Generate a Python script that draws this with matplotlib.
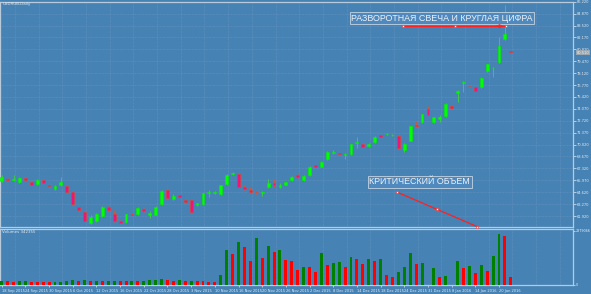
import numpy as np
import matplotlib
matplotlib.use("Agg")
import matplotlib.pyplot as plt
import matplotlib.transforms as mtransforms

# USDRUB daily bars, 18 Sep 2015 .. 22 Jan 2016
opens = [65.92, 66.06, 66.03, 65.81, 66.19, 65.74, 65.58, 66.00, 65.37, 64.98,
         65.43, 65.36, 64.61, 62.94, 62.41, 61.09, 61.35, 61.95, 62.94, 62.11,
         61.35, 61.21, 62.15, 62.11, 62.75, 62.00, 62.09, 63.26, 64.87, 63.85,
         64.27, 63.73, 63.73, 63.17, 63.28, 64.55, 64.55, 64.38, 65.55, 66.68,
         66.68, 65.24, 64.87, 64.62, 64.56, 65.24, 65.63, 65.17, 65.49, 66.00,
         66.53, 66.04, 66.57, 67.65, 67.51, 68.35, 69.12, 69.02, 68.84, 68.95,
         70.22, 70.05, 69.86, 70.29, 71.10, 71.21, 71.05, 71.02, 69.46, 70.42,
         72.29, 72.61, 74.03, 72.61, 72.88, 73.26, 74.39, 75.83, 77.04, 76.67,
         76.58, 76.51, 78.36, 78.66, 79.42, 81.95, 80.63]
highs = [66.57, 66.23, 66.57, 66.34, 66.49, 65.83, 66.06, 66.23, 66.00, 65.43,
         66.38, 65.43, 64.70, 63.05, 62.49, 61.98, 62.26, 63.00, 63.05, 62.60,
         61.47, 62.20, 62.26, 62.94, 62.83, 62.49, 63.00, 64.87, 65.55, 64.36,
         64.53, 63.96, 63.79, 63.45, 64.58, 64.87, 64.75, 65.49, 66.63, 66.91,
         66.74, 65.38, 65.21, 64.81, 64.81, 66.12, 66.08, 65.61, 65.83, 66.40,
         66.63, 66.57, 67.59, 68.04, 68.16, 69.29, 69.40, 69.40, 69.06, 70.14,
         70.91, 70.42, 70.20, 70.99, 71.33, 71.33, 71.22, 71.10, 70.20, 72.12,
         72.69, 73.54, 74.39, 73.15, 73.37, 74.68, 74.51, 76.26, 77.23, 76.77,
         76.66, 77.68, 79.21, 78.78, 82.25, 85.84, 80.82]
lows = [65.77, 65.89, 65.89, 65.66, 65.95, 65.32, 65.49, 65.55, 65.13, 64.87,
        65.32, 64.58, 63.17, 62.03, 61.24, 61.01, 61.24, 61.86, 62.49, 61.24,
        61.07, 61.13, 61.98, 62.03, 62.43, 61.69, 61.98, 63.17, 63.85, 63.73,
        63.96, 63.45, 62.26, 63.05, 63.17, 64.11, 64.41, 64.30, 65.43, 66.57,
        65.15, 64.87, 64.53, 64.41, 64.19, 65.10, 65.21, 65.10, 65.43, 65.89,
        66.23, 65.89, 66.46, 67.31, 67.42, 68.27, 68.95, 68.61, 68.38, 68.84,
        69.60, 69.52, 69.74, 70.20, 70.76, 71.10, 70.99, 69.52, 69.18, 70.37,
        72.01, 72.52, 73.32, 72.52, 72.58, 73.15, 74.05, 74.85, 76.01, 75.83,
        75.98, 76.43, 78.25, 77.71, 79.32, 81.88, 79.42]
closes = [66.38, 66.00, 66.05, 66.26, 66.00, 65.43, 65.97, 65.66, 65.34, 65.36,
          65.74, 64.68, 63.25, 62.57, 61.35, 61.84, 62.11, 62.91, 62.60, 61.35,
          61.16, 62.11, 62.06, 62.86, 62.52, 62.26, 62.91, 64.79, 63.99, 64.24,
          64.04, 63.54, 62.37, 63.36, 64.49, 64.57, 64.57, 65.43, 66.57, 66.83,
          65.24, 65.02, 64.64, 64.60, 64.68, 65.70, 65.40, 65.43, 65.74, 66.31,
          66.38, 66.46, 67.51, 67.42, 68.07, 69.20, 69.20, 69.00, 68.95, 70.05,
          70.24, 69.71, 70.08, 70.91, 70.88, 71.23, 71.16, 69.60, 70.08, 72.07,
          72.12, 73.43, 73.37, 73.09, 73.18, 74.59, 74.20, 76.09, 77.07, 76.65,
          76.09, 77.60, 79.12, 78.68, 81.19, 82.52, 80.51]
volumes = [155000, 133000, 110000, 133000, 141000, 132000, 124000, 110000, 102000, 110000,
           124000, 141000, 177000, 155000, 186000, 155000, 168000, 141000, 150000, 168000,
           141000, 133000, 155000, 141000, 168000, 177000, 221000, 234000, 221000, 168000,
           177000, 155000, 159000, 146000, 133000, 115000, 102000, 420000, 1526000, 1335000,
           1893000, 1672000, 1052000, 2043000, 1159000, 1702000, 1450000, 1526000, 1083000, 1052000,
           641000, 787000, 761000, 566000, 1380000, 862000, 937000, 982000, 761000, 1203000,
           1141000, 893000, 1114000, 1052000, 1128000, 420000, 318000, 566000, 761000, 1380000,
           907000, 937000, 0, 743000, 318000, 376000, 0, 1052000, 716000, 818000,
           509000, 862000, 584000, 1247000, 2246000, 2145000, 342355]
date_labels = ["18 Sep 2015", "24 Sep 2015", "30 Sep 2015", "6 Oct 2015", "12 Oct 2015",
               "16 Oct 2015", "22 Oct 2015", "28 Oct 2015", "3 Nov 2015", "10 Nov 2015",
               "16 Nov 2015", "20 Nov 2015", "26 Nov 2015", "2 Dec 2015", "8 Dec 2015",
               "14 Dec 2015", "18 Dec 2015", "24 Dec 2015", "31 Dec 2015", "8 Jan 2016",
               "14 Jan 2016", "20 Jan 2016"]
price_ticks = [61.92, 63.27, 64.62, 65.97, 67.32, 68.67, 70.02, 71.37, 72.72, 74.07,
               75.42, 76.77, 78.12, 79.47, 80.82, 82.17, 83.52, 84.87, 86.22]
vol_max_label = 2379066

BG = "#4682b4"
FRAME = "#b9cbdb"
TXT = "#e4ecf3"
GRID = "#6393c0"
SMALL = 2.6

o = np.array(opens); h = np.array(highs); l = np.array(lows); c = np.array(closes)
v = np.array(volumes)
x = np.arange(len(o))
up = c >= o

fig = plt.figure(figsize=(5.91, 2.94), dpi=100, facecolor=BG)
W, H = 591.0, 294.0
ax = fig.add_axes([0.0, 1 - 227 / H, 573 / W, (227 - 1.7) / H], facecolor=BG)
axv = fig.add_axes([0.0, 1 - 285 / H, 573 / W, (285 - 229) / H], facecolor=BG, sharex=ax)

for a in (ax, axv):
    for s in a.spines.values():
        s.set_color(FRAME)
        s.set_linewidth(0.9)
    a.tick_params(colors=TXT, labelsize=SMALL, length=2, width=0.5, pad=1)
    a.yaxis.tick_right()

# grid
for a in (ax, axv):
    for gx in np.arange(2.25, 97, 4):
        a.axvline(gx, color=GRID, lw=0.5, ls=(0, (1, 1)), zorder=0)
for p in price_ticks:
    ax.axhline(p, color=GRID, lw=0.5, ls=(0, (1, 1)), zorder=0)

# candles
wick_col = np.where(up, "#3fd23f", "#d05a34")
ax.vlines(x, l, h, colors=wick_col, lw=0.6, zorder=2)
body_h = np.maximum(np.abs(c - o), 0.04)
ax.bar(x, body_h, bottom=np.minimum(o, c), width=0.48,
       color=np.where(up, "#00ff00", "#f0147a"),
       edgecolor=np.where(up, "#00ee00", "#e8402a"), linewidth=0.4, zorder=3)

ax.set_xlim(-1.7 / 5.92, (573 - 1.7) / 5.92)
ax.set_ylim(60.673, 86.22)
ax.set_yticks(price_ticks)
ax.set_yticklabels([f"{p:.3f}" for p in price_ticks])
ax.tick_params(axis="x", bottom=False, labelbottom=False)

# last price marker
tr = mtransforms.blended_transform_factory(ax.transAxes, ax.transData)
ax.text(1.006, c[-1] - 0.08, f"{c[-1]:.3f}", transform=tr, fontsize=SMALL, color="#f0f0f0",
        va="center", ha="left", bbox=dict(boxstyle="square,pad=0.1", fc="#9aa6b0", ec="none"))

ax.text(0.004, 0.997, "USDRUB,Daily", transform=ax.transAxes, fontsize=SMALL + 0.3,
        color=TXT, ha="left", va="top")

# annotations
font = ["Liberation Sans", "DejaVu Sans"]
box = dict(boxstyle="square,pad=0.18", fc="#5089bd", ec="#c4d4e2", lw=0.6)
ax.text(59.05, 84.37, "РАЗВОРОТНАЯ СВЕЧА И КРУГЛАЯ ЦИФРА", fontsize=6.4, family=font,
        color="#eef2f6", ha="left", va="center", bbox=box, zorder=6)
ax.text(62.1, 65.78, "КРИТИЧЕСКИЙ ОБЪЕМ", fontsize=6.4, family=font,
        color="#eef2f6", ha="left", va="center", bbox=box, zorder=6)

ax.plot([67.8, 85.2], [83.45, 83.45], color="#ff2020", lw=0.9, zorder=7)
ax.annotate("", xy=(85.2, 83.45), xytext=(83.0, 83.45),
            arrowprops=dict(arrowstyle="-|>", color="#ff2020", lw=0.9, mutation_scale=5), zorder=7)
ax.plot([67.8, 76.5, 85.2], [83.45, 83.45, 83.45], ls="none", marker="s", ms=2,
        mfc="white", mec="#ff2020", mew=0.4, zorder=8)

ax.plot([66.84, 80.34], [64.61, 60.71], color="#ff2020", lw=0.9, zorder=7, clip_on=False)
ax.plot([66.84, 73.6, 80.34], [64.61, 62.66, 60.71], ls="none", marker="s", ms=2,
        mfc="white", mec="#ff2020", mew=0.4, zorder=8, clip_on=False)

# volumes: green when higher than previous bar
prev = np.concatenate([[0], v[:-1]])
vcol = np.where(v > prev, "#008000", "#ff0000")
axv.bar(x, v, width=0.5, color=vcol, zorder=3)
axv.set_ylim(-22000, 2454000)
axv.set_yticks([0, vol_max_label])
axv.set_yticklabels(["0", str(vol_max_label)])
axv.tick_params(axis="y", length=1.2, pad=0.6, labelsize=SMALL - 0.2)
axv.text(0.004, 0.985, f"Volumes {v[-1]}", transform=axv.transAxes, fontsize=SMALL + 0.3,
         color=TXT, ha="left", va="top")

axv.set_xticks(np.arange(0, len(date_labels) * 4, 4))
axv.set_xticklabels(date_labels)
for t in axv.get_xticklabels():
    t.set_ha("left")
axv.tick_params(axis="x", length=1.5, pad=1.2)

fig.savefig("out.png", dpi=100, facecolor=BG)
